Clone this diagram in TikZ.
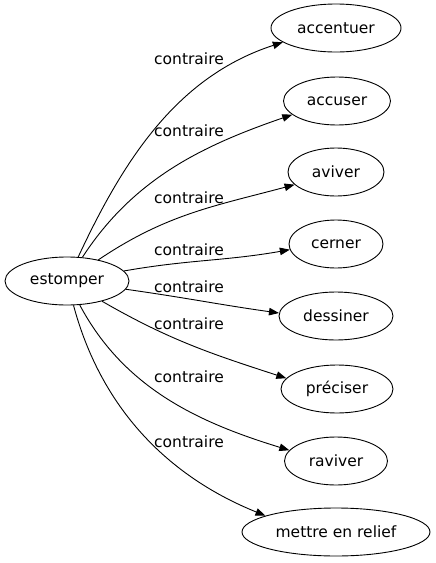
\documentclass[tikz,border=0pt]{standalone}
\usepackage{fontspec}
\setmainfont{DejaVu Sans}
\usetikzlibrary{shapes.geometric,arrows.meta}

\begin{document}
\begin{tikzpicture}[x=1pt, y=1pt, font=\fontsize{15.5}{18}\selectfont,
  word/.style={ellipse, draw, line width=0.9pt, inner sep=0pt, minimum height=48pt},
  rel/.style={-{Triangle[length=10pt,width=7.5pt]}, line width=0.9pt},
  lbl/.style={inner sep=0pt}]
  \useasboundingbox (0,-563) rectangle (436,0);
  % words
  \node (estomper) at (67,-281) [word, minimum width=124pt] {estomper};
  \node (accentuer) at (336,-28) [word, minimum width=130pt] {accentuer};
  \node (accuser) at (337,-101) [word, minimum width=107pt] {accuser};
  \node (aviver) at (336,-172) [word, minimum width=96pt] {aviver};
  \node (cerner) at (336,-244) [word, minimum width=94pt] {cerner};
  \node (dessiner) at (336,-316) [word, minimum width=114pt] {dessiner};
  \node (preciser) at (337,-389) [word, minimum width=112pt] {préciser};
  \node (raviver) at (336,-461) [word, minimum width=103pt] {raviver};
  \node (relief) at (336,-532) [word, minimum width=188pt] {mettre en relief};
  % labels
  \node (l1) at (189,-59) [lbl] {contraire};
  \node (l2) at (189,-131) [lbl] {contraire};
  \node (l3) at (189,-198) [lbl] {contraire};
  \node (l4) at (189,-250) [lbl] {contraire};
  \node (l5) at (189,-287) [lbl] {contraire};
  \node (l6) at (189,-324) [lbl] {contraire};
  \node (l7) at (189,-377) [lbl] {contraire};
  \node (l8) at (189,-442) [lbl] {contraire};
  % edges
  \draw[rel] (estomper) to[out=65, in=198, looseness=0.95] (accentuer.195);
  \draw[rel] (estomper) to[out=57, in=199, looseness=0.95] (accuser.197);
  \draw[rel] (estomper) to[out=34, in=195] (aviver.197);
  \draw[rel] (estomper) to[out=10, in=190] (cerner.187);
  \draw[rel] (estomper) to[out=-8, in=172] (dessiner.177);
  \draw[rel] (estomper) to[out=-30, in=162] (preciser.168);
  \draw[rel] (estomper) to[out=-62, in=163, looseness=0.95] (raviver.167);
  \draw[rel] (estomper) to[out=-75, in=158, looseness=0.95] (relief.167);
\end{tikzpicture}
\end{document}
